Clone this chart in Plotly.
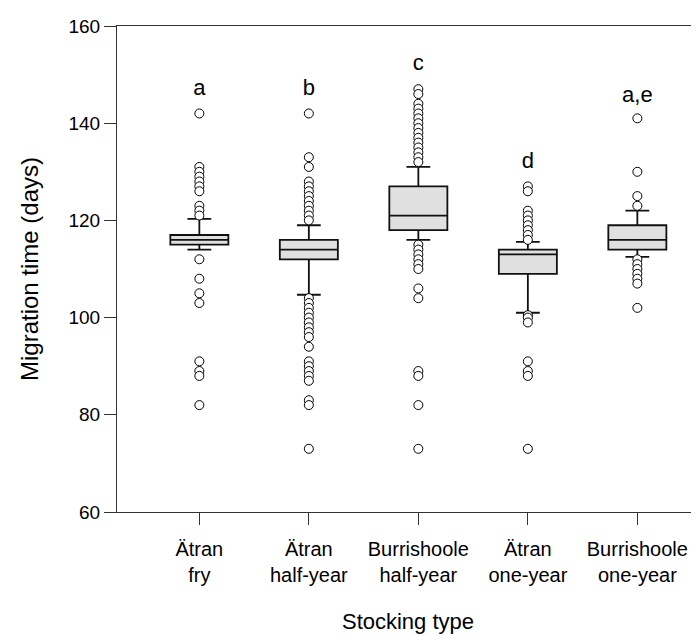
import plotly.graph_objects as go

categories = ["Ätran<br>fry", "Ätran<br>half-year", "Burrishoole<br>half-year",
              "Ätran<br>one-year", "Burrishoole<br>one-year"]
q1 = [115, 112, 118, 109, 114]
median = [116, 114, 121, 113, 116]
q3 = [117, 116, 127, 114, 119]
lowerfence = [114, 104.7, 116, 101, 112.5]
upperfence = [120.3, 119, 131, 115.6, 122]
outliers = [
    [142, 131, 130, 129, 128, 127, 126, 123, 122, 121, 112, 108, 105, 103, 91, 89, 88, 82],
    [142, 133, 131, 128, 127, 126, 125, 124, 123, 122, 121, 120,
     104, 103, 102, 101, 100, 99, 98, 97, 96, 94, 91, 90, 89, 88, 87, 83, 82, 73],
    [147, 146, 144, 143, 142, 141, 140, 139, 138, 137, 136, 135, 134, 133, 132,
     115, 114, 113, 112, 111, 110, 106, 104, 89, 88, 82, 73],
    [127, 126, 122, 121, 120, 119, 118, 117, 116, 100.5, 100, 99, 91, 89, 88, 73],
    [141, 130, 125, 123, 112, 111, 110, 109, 108, 107, 102],
]
letters = ["a", "b", "c", "d", "a,e"]
letter_y = [147, 147, 152, 132, 145.5]
y_ticks = [60, 80, 100, 120, 140, 160]

fig = go.Figure()
for i in range(len(categories)):
    fig.add_trace(go.Box(
        x=[i], q1=[q1[i]], median=[median[i]], q3=[q3[i]],
        lowerfence=[lowerfence[i]], upperfence=[upperfence[i]],
        width=0.53, whiskerwidth=0.41, boxpoints=False,
        fillcolor="#e0e0e0", line=dict(color="#111111", width=1.8),
        showlegend=False, hoverinfo="skip"))
    fig.add_trace(go.Scatter(
        x=[i] * len(outliers[i]), y=outliers[i], mode="markers",
        marker=dict(symbol="circle", size=9, color="white",
                    line=dict(color="black", width=1)),
        showlegend=False, hoverinfo="skip"))

fig.add_trace(go.Scatter(
    x=list(range(len(categories))), y=letter_y, mode="text", text=letters,
    textfont=dict(family="Liberation Sans, Arial", size=22, color="black"),
    showlegend=False, hoverinfo="skip"))

fig.update_layout(
    width=699, height=635,
    margin=dict(l=109, r=8, t=12, b=131),
    plot_bgcolor="white", paper_bgcolor="white",
    font=dict(family="Liberation Sans, Arial", color="black"),
    xaxis=dict(range=[-0.752, 4.563], tickvals=list(range(len(categories))),
               ticktext=categories, ticks="outside", ticklen=12, tickcolor="#333",
               showline=True, linecolor="#333", linewidth=1.2, mirror=True,
               showgrid=False, zeroline=False, tickfont=dict(size=20),
               ticklabelstandoff=7,
               title=dict(text="Stocking type", font=dict(size=22), standoff=28)),
    yaxis=dict(range=[60, 160], tickvals=y_ticks, ticks="outside", ticklen=12,
               tickcolor="#333", showline=True, linecolor="#333", linewidth=1.2,
               showgrid=False, zeroline=False, tickfont=dict(size=19),
               title=dict(text="Migration time (days)", font=dict(size=24), standoff=22)),
)
fig.write_html("out.html")
